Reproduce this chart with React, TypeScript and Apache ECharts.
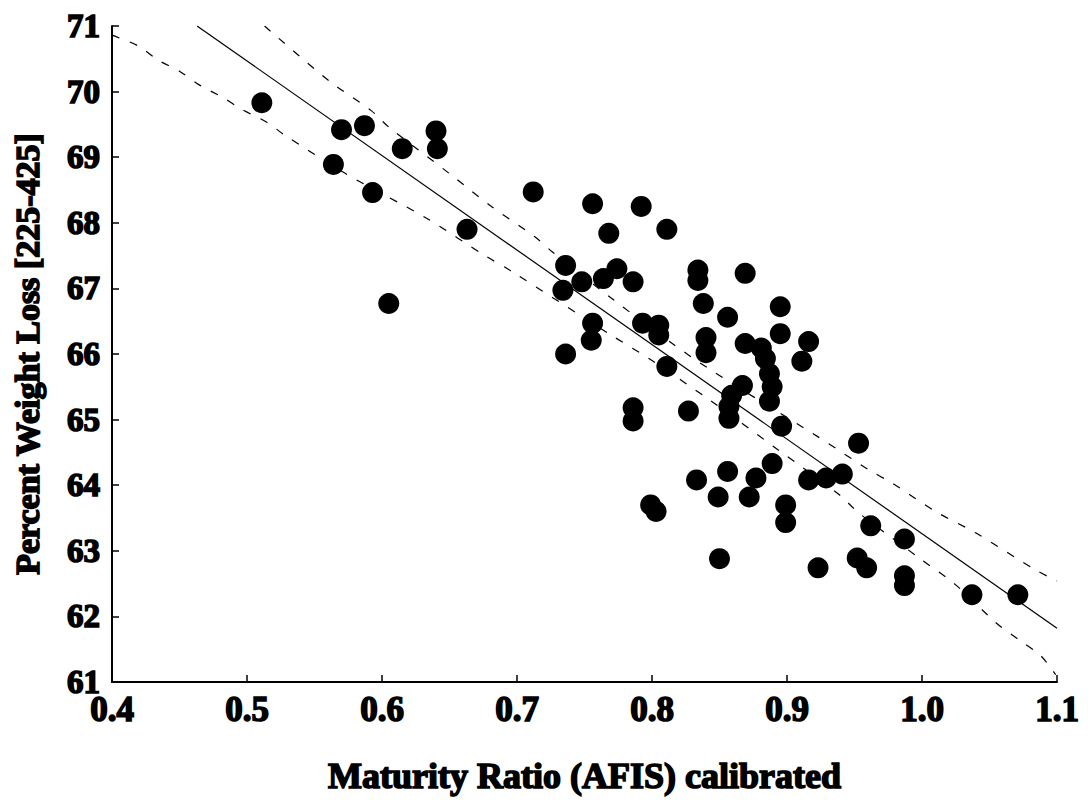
import React, { useEffect, useRef } from "react";
import * as echarts from "echarts";

// Measured samples: maturity ratio vs. percent weight loss
const maturityRatio = [
  0.511, 0.570, 0.587, 0.615, 0.640, 0.641, 0.564, 0.593, 0.663, 0.605,
  0.712, 0.756, 0.792, 0.768, 0.811, 0.736, 0.734, 0.748, 0.764, 0.774,
  0.786, 0.756, 0.755, 0.736, 0.793, 0.805, 0.805, 0.834, 0.834, 0.838,
  0.840, 0.840, 0.811, 0.869, 0.856, 0.895, 0.869, 0.895, 0.916, 0.911,
  0.881, 0.884, 0.887, 0.889, 0.887, 0.867, 0.859, 0.857, 0.857, 0.896,
  0.953, 0.827, 0.786, 0.786, 0.889, 0.877, 0.856, 0.833, 0.849, 0.872,
  0.916, 0.929, 0.941, 0.799, 0.803, 0.899, 0.899, 0.850, 0.923, 0.952,
  0.959, 0.962, 0.987, 0.987, 0.987, 1.037, 1.071,
];
const weightLoss = [
  69.83, 69.42, 69.48, 69.13, 69.40, 69.13, 68.89, 68.46, 67.90, 66.77,
  68.47, 68.29, 68.25, 67.84, 67.90, 67.35, 66.97, 67.10, 67.15, 67.30,
  67.10, 66.47, 66.21, 66.00, 66.47, 66.44, 66.29, 67.28, 67.12, 66.77,
  66.25, 66.02, 65.81, 67.23, 66.56, 66.72, 66.16, 66.31, 66.19, 65.89,
  66.09, 65.93, 65.70, 65.50, 65.28, 65.52, 65.37, 65.20, 65.02, 64.90,
  64.64, 65.13, 65.18, 64.98, 64.33, 64.11, 64.21, 64.08, 63.82, 63.82,
  64.08, 64.11, 64.17, 63.70, 63.60, 63.70, 63.43, 62.88, 62.74, 62.89,
  62.74, 63.38, 63.18, 62.62, 62.47, 62.33, 62.33,
];

// Least-squares fit line
const fitX = [0.463, 1.1];
const fitY = [71.0, 61.82];

// Upper confidence limit
const upperX = [
  0.513, 0.561, 0.592, 0.605, 0.650, 0.681, 0.713, 0.726, 0.770, 0.815,
  0.847, 0.919, 0.961, 0.978, 1.010, 1.040, 1.084, 1.100,
];
const upperY = [
  71.0, 70.16, 69.71, 69.46, 68.75, 68.25, 67.79, 67.56, 66.85, 66.16,
  65.71, 64.79, 64.23, 64.03, 63.60, 63.27, 62.71, 62.54,
];

// Lower confidence limit
const lowerX = [
  0.400, 0.419, 0.435, 0.450, 0.464, 0.483, 0.496, 0.515, 0.527, 0.573,
  0.603, 0.633, 0.677, 0.696, 0.768, 0.800, 0.844, 0.892, 0.939, 0.953,
  0.998, 1.025, 1.055, 1.072, 1.088, 1.099,
];
const lowerY = [
  70.86, 70.70, 70.47, 70.31, 70.11, 69.90, 69.73, 69.53, 69.35, 68.75,
  68.41, 68.07, 67.49, 67.26, 66.31, 65.90, 65.28, 64.56, 63.85, 63.58,
  62.89, 62.48, 61.90, 61.64, 61.40, 61.11,
];

const xTitle = "Maturity Ratio (AFIS) calibrated";
const yTitle = "Percent Weight Loss [225-425]";

const zip = (xs: number[], ys: number[]) => xs.map((x, i) => [x, ys[i]]);

const FONT = "'Liberation Serif', 'DejaVu Serif', serif";

const heavyText = {
  fontFamily: FONT,
  fontWeight: "bold" as const,
  color: "#000",
  textBorderColor: "#000",
  textBorderWidth: 1.6,
};

export default function App() {
  const ref = useRef<HTMLDivElement>(null);

  useEffect(() => {
    if (!ref.current) return;
    const chart = echarts.init(ref.current, null, { renderer: "svg" });
    chart.setOption({
      animation: false,
      backgroundColor: "#fff",
      grid: { left: 112, right: 31, top: 26, bottom: 120 },
      xAxis: {
        type: "value",
        min: 0.4,
        max: 1.1,
        interval: 0.1,
        name: xTitle,
        nameLocation: "middle",
        nameGap: 76,
        nameTextStyle: { ...heavyText, fontSize: 36 },
        axisLine: { lineStyle: { color: "#000", width: 2 } },
        axisTick: { inside: true, length: 7, lineStyle: { color: "#000", width: 1.5 } },
        axisLabel: {
          ...heavyText,
          fontSize: 35,
          lineHeight: 20,
          margin: 17,
          formatter: (v: number) => v.toFixed(1),
        },
        splitLine: { show: false },
      },
      yAxis: {
        type: "value",
        min: 61,
        max: 71,
        interval: 1,
        name: yTitle,
        nameLocation: "middle",
        nameGap: 68,
        nameTextStyle: { ...heavyText, fontSize: 34 },
        axisLine: { lineStyle: { color: "#000", width: 2 } },
        axisTick: { inside: true, length: 7, lineStyle: { color: "#000", width: 1.5 } },
        axisLabel: {
          ...heavyText,
          fontSize: 33,
          lineHeight: 18,
          margin: 12,
          formatter: (v: number) => String(Math.round(v)),
        },
        splitLine: { show: false },
      },
      series: [
        {
          type: "line",
          data: zip(fitX, fitY),
          showSymbol: false,
          lineStyle: { color: "#000", width: 1.2 },
          z: 2,
        },
        {
          type: "line",
          data: zip(upperX, upperY),
          showSymbol: false,
          smooth: 0.3,
          lineStyle: { color: "#000", width: 1.2, type: [8, 11] },
          z: 2,
        },
        {
          type: "line",
          data: zip(lowerX, lowerY),
          showSymbol: false,
          smooth: 0.3,
          lineStyle: { color: "#000", width: 1.2, type: [8, 11] },
          z: 2,
        },
        {
          type: "scatter",
          data: zip(maturityRatio, weightLoss),
          symbol: "circle",
          symbolSize: 21,
          itemStyle: { color: "#000", opacity: 1 },
          z: 3,
        },
      ],
    });
    return () => chart.dispose();
  }, []);

  return (
    <div
      ref={ref}
      style={{
        position: "absolute",
        left: 0,
        top: 0,
        width: 1088,
        height: 802,
        background: "#fff",
      }}
    />
  );
}
